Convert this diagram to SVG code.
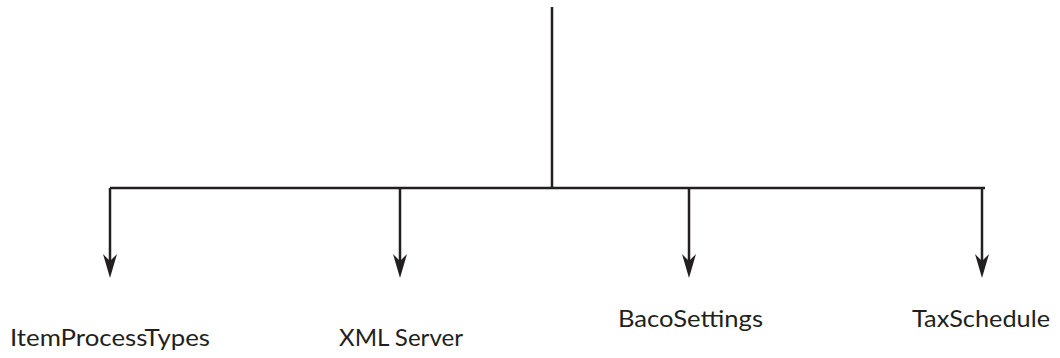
<svg xmlns="http://www.w3.org/2000/svg" width="1060" height="358" viewBox="0 0 1060 358">
<style>
.c{stroke:#231f20;stroke-width:2.5;fill:none}
.h{fill:#231f20}
.t{font-family:Lato,"Open Sans",sans-serif;font-size:24px;fill:#231f20}
</style>
<rect width="1060" height="358" fill="#fff"/>
<g id="connectors">
<path class="c" d="M552,7 V188"/>
<path class="c" d="M110,188 H985"/>
<path class="c" d="M110,188 V270"/>
<path class="c" d="M400,188 V270"/>
<path class="c" d="M689,188 V270"/>
<path class="c" d="M982,188 V270"/>
<path class="h" d="M103,254 L110,261 L117,254 L110,278 Z"/>
<path class="h" d="M393,254 L400,261 L407,254 L400,278 Z"/>
<path class="h" d="M682,254 L689,261 L696,254 L689,278 Z"/>
<path class="h" d="M975,254 L982,261 L989,254 L982,278 Z"/>
</g>
<g id="n1"><text class="t" x="10" y="346" textLength="200" lengthAdjust="spacingAndGlyphs">ItemProcessTypes</text></g>
<g id="n2"><text class="t" x="339" y="346" textLength="124" lengthAdjust="spacingAndGlyphs">XML Server</text></g>
<g id="n3"><text class="t" x="618" y="327" textLength="145" lengthAdjust="spacingAndGlyphs">BacoSettings</text></g>
<g id="n4"><text class="t" x="912" y="327" textLength="138" lengthAdjust="spacingAndGlyphs">TaxSchedule</text></g>
</svg>
